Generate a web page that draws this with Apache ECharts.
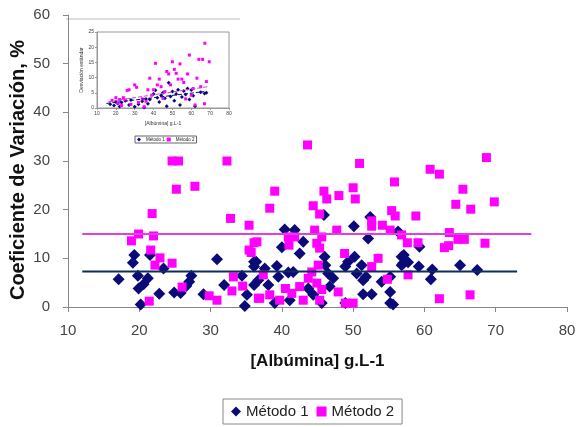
<!DOCTYPE html>
<html>
<head>
<meta charset="utf-8">
<script src="https://cdn.jsdelivr.net/npm/echarts@6/dist/echarts.min.js"></script>
<style>
  html, body { margin: 0; padding: 0; background: #fff; }
  #main { width: 576px; height: 427px; }
</style>
</head>
<body>
<div id="main"></div>
<script>
// valores: [albúmina, CV%]
var metodo1 = [
    [17.1,5.7],[19.3,10.7],[19.1,9.1],[21.5,10.7],[19.8,6.4],[21.2,5.9],[20.6,4.7],[19.9,3.8],[20.2,0.5],
    [22.8,2.7],[23.4,7.9],[24.9,3.0],[25.8,2.9],[27.3,6.4],[27.0,5.2],[26.6,4.3],[29.0,2.6],[30.9,9.8],
    [31.9,4.5],[34.4,6.4],[36.1,4.5],[35.1,2.5],[34.8,0.2],[36.1,9.3],[36.1,8.3],
    [40.4,15.9],[41.8,15.8],[52.4,18.5],[50.1,16.6],[52.1,14.1],[43.0,13.4],[40.0,12.3],[42.5,11.0],
    [46.0,10.3],[45.9,18.9],[50.2,10.3],[49.3,9.3],[51.2,8.6],[46.1,8.6],[48.9,8.3],[36.4,9.3],[39.3,8.4],
    [37.6,7.9],[40.9,7.1],[41.6,7.2],[39.5,6.2],[46.5,6.9],[50.5,6.9],[51.4,5.5],[51.8,6.2],[36.7,5.5],
    [38.1,4.5],[47.2,5.9],[46.7,4.2],[54.0,5.2],[55.2,6.2],[43.7,3.8],[41.1,1.4],[51.4,2.6],[52.6,2.6],
    [55.2,3.1],[55.2,0.8],[55.6,0.5],[56.8,10.3],[56.8,8.6],[56.3,15.5],[39.0,0.8],[45.6,0.8],[48.9,0.8],
    [44.4,2.5],[59.3,12.4],[57.1,10.7],[57.0,9.0],[57.7,9.2],[59.2,8.3],[61.1,7.7],[60.9,5.7],[65.0,8.6],
    [67.4,7.6]
];
var metodo2 = [
    [24.6,30.0],[25.5,30.0],[25.2,24.2],[27.8,24.8],[32.3,30.0],[21.8,19.2],[19.9,15.0],[18.9,13.6],
    [22.0,14.6],[21.6,11.7],[22.9,10.1],[22.2,8.6],[24.6,9.0],[21.4,1.2],[26.0,4.1],[29.8,2.3],[30.9,1.4],
    [32.8,18.2],[35.4,16.8],[33.2,6.2],[33.0,3.3],[34.5,4.3],[36.1,13.2],[35.4,11.7],[35.7,11.2],[36.7,1.8],
    [43.6,33.3],[50.9,29.5],[55.8,25.7],[39.0,23.8],[38.3,20.3],[45.9,23.8],[46.3,22.2],[48.0,22.9],
    [50.0,24.5],[50.3,22.2],[44.4,20.8],[45.3,19.1],[55.4,19.8],[55.9,18.7],[52.6,17.7],[52.6,16.6],
    [54.1,16.8],[55.2,15.8],[56.8,14.8],[44.6,15.8],[47.7,15.8],[40.9,14.4],[41.8,14.4],[41.0,12.7],
    [45.6,14.4],[44.9,13.1],[45.3,12.1],[36.5,13.4],[48.8,11.0],[53.5,10.0],[52.6,8.3],[45.1,8.6],
    [44.2,7.2],[37.4,6.6],[43.7,5.9],[44.9,4.9],[42.5,4.2],[40.5,3.8],[45.6,3.6],[38.3,2.5],[39.7,1.4],
    [43.0,1.4],[47.9,3.1],[36.9,1.8],[48.9,0.8],[50.0,0.8],[54.8,5.7],[45.3,1.4],[41.4,2.8],
    [68.7,30.7],[60.8,28.3],[62.1,27.3],[65.4,24.2],[64.4,21.1],[66.5,20.1],[69.8,21.6],[58.8,18.7],
    [63.5,15.3],[57.6,13.2],[59.1,13.2],[64.7,13.9],[65.6,13.9],[62.8,12.2],[63.4,12.6],[68.5,13.1],
    [57.7,6.6],[62.1,1.7],[66.4,2.5]
];
// líneas de promedio
var media1 = [[12, 7.3], [73, 7.3]];
var media2 = [[12, 15], [75, 15]];

// gráfico pequeño: desviación estándar
var insetM1 = [
    [17,1.2],[19,0.8],[20,2.0],[21,1.5],[22,0.5],[23,1.8],[25,2.4],[27,1.0],[28,2.6],[30,0.4],[32,1.2],
    [34,2.2],[35,0.2],[36,3.0],[37,1.4],[38,2.8],[40,4.6],[41,5.8],[42,3.4],[43,2.0],[44,4.2],[45,5.0],
    [46,3.2],[47,0.6],[48,8.3],[49,3.8],[50,5.4],[51,2.4],[52,4.6],[53,6.0],[54,1.0],[55,3.6],[56,5.6],
    [57,4.4],[58,6.4],[59,2.8],[60,5.9],[61,4.0],[62,0.6],[65,5.2],[67,4.8],[68,5.0]
];
var insetM2 = [
    [18,2.5],[20,3.4],[21,1.6],[22,2.8],[23,0.8],[24,3.4],[25,2.6],[26,5.8],[27,6.0],[28,1.2],[30,7.6],
    [31,6.8],[32,1.8],[34,3.0],[35,0.4],[36,2.2],[37,6.0],[38,9.8],[39,4.2],[40,6.0],[41,14.7],[42,7.6],
    [43,9.5],[44,7.0],[45,3.2],[46,5.4],[47,12.0],[48,11.2],[49,7.6],[50,15.2],[51,12.7],[52,11.4],
    [53,9.5],[54,14.5],[55,9.5],[56,8.4],[57,3.0],[58,11.2],[59,17.4],[60,4.2],[61,6.4],[62,1.0],
    [63,9.8],[64,16.0],[65,7.0],[66,16.0],[67,1.4],[68,8.7],[67.2,21.3],[69.5,15.2]
];
var tend1 = [[15, 1.5], [66.7, 5.4]];
var tend2 = [[16, 2.1], [68.5, 7.0]];

var navy = '#0a0a78';
var magenta = '#ff00ff';
var font = 'Liberation Sans, Arial, sans-serif';

var chart = echarts.init(document.getElementById('main'));

var option = {
    animation: false,
    backgroundColor: '#fff',
    textStyle: { fontFamily: font },
    graphic: [{
        type: 'line',
        shape: { x1: 66, y1: 19, x2: 240, y2: 19 },
        style: { stroke: '#bbb', lineWidth: 1 }
    }],
    legend: [{
        data: ['Método 1', 'Método 2'],
        left: 223,
        top: 399,
        borderColor: '#888',
        borderWidth: 1,
        borderRadius: 0,
        padding: [5, 8, 5, 8],
        itemWidth: 10,
        itemHeight: 10,
        itemGap: 8,
        textStyle: { fontSize: 15, color: '#222', fontFamily: font }
    }, {
        data: ['Método 1', 'Método 2'],
        left: 135,
        top: 136,
        borderColor: '#666',
        borderWidth: 1,
        borderRadius: 0,
        padding: [1, 2, 1, 2],
        itemWidth: 4,
        itemHeight: 4,
        itemGap: 2,
        textStyle: { fontSize: 4.5, color: '#222', fontFamily: font }
    }],
    grid: [
        { left: 68, right: 9, top: 15, bottom: 120, outerBoundsMode: 'none' },
        { left: 97, top: 32, width: 132, height: 76, show: true, borderColor: '#999', borderWidth: 1, outerBoundsMode: 'none' }
    ],
    xAxis: [{
        gridIndex: 0,
        type: 'value',
        min: 10, max: 80, interval: 10,
        name: '[Albúmina] g.L-1',
        nameLocation: 'middle',
        nameGap: 46,
        nameMoveOverlap: false,
        nameTextStyle: { fontSize: 17, fontWeight: 'bold', color: '#111' },
        axisLine: { lineStyle: { color: '#888' } },
        axisTick: { inside: false, length: 5, lineStyle: { color: '#888' } },
        axisLabel: { fontSize: 15, color: '#444', margin: 16 },
        splitLine: { show: false }
    }, {
        gridIndex: 1,
        type: 'value',
        min: 10, max: 80, interval: 10,
        name: '[Albúmina] g.L-1',
        nameLocation: 'middle',
        nameGap: 13,
        nameTextStyle: { fontSize: 5, color: '#333' },
        axisLine: { lineStyle: { color: '#999' } },
        axisTick: { length: 2, lineStyle: { color: '#999' } },
        axisLabel: { fontSize: 5, color: '#444', margin: 3 },
        splitLine: { show: false }
    }],
    yAxis: [{
        gridIndex: 0,
        type: 'value',
        min: 0, max: 60, interval: 10,
        name: 'Coeficiente de Variación, %',
        nameLocation: 'middle',
        nameGap: 40,
        nameMoveOverlap: false,
        nameTextStyle: { fontSize: 20, fontWeight: 'bold', color: '#111', padding: [0, 18, 0, 0] },
        axisLine: { show: true, lineStyle: { color: '#888' } },
        axisTick: { show: true, length: 5, lineStyle: { color: '#888' } },
        axisLabel: { fontSize: 15, color: '#444', margin: 18 },
        splitLine: { show: false }
    }, {
        gridIndex: 1,
        type: 'value',
        min: 0, max: 25, interval: 5,
        name: 'Desviación estándar',
        nameLocation: 'middle',
        nameGap: 12,
        nameTextStyle: { fontSize: 5, color: '#333' },
        axisLine: { show: true, lineStyle: { color: '#999' } },
        axisTick: { show: true, length: 2, lineStyle: { color: '#999' } },
        axisLabel: { fontSize: 5, color: '#444', margin: 3 },
        splitLine: { show: false }
    }],
    series: [{
        name: 'Método 1',
        type: 'scatter',
        xAxisIndex: 0, yAxisIndex: 0,
        symbol: 'diamond',
        symbolSize: 12,
        itemStyle: { color: navy, opacity: 1 },
        data: metodo1,
        z: 3
    }, {
        name: 'Método 2',
        type: 'scatter',
        xAxisIndex: 0, yAxisIndex: 0,
        symbol: 'rect',
        symbolSize: 9,
        itemStyle: { color: magenta, opacity: 1 },
        data: metodo2,
        z: 4
    }, {
        name: 'media1',
        type: 'line',
        xAxisIndex: 0, yAxisIndex: 0,
        symbol: 'none',
        lineStyle: { color: '#0f2d5a', width: 2 },
        data: media1,
        z: 5
    }, {
        name: 'media2',
        type: 'line',
        xAxisIndex: 0, yAxisIndex: 0,
        symbol: 'none',
        lineStyle: { color: '#e040e0', width: 2 },
        data: media2,
        z: 5
    }, {
        name: 'Método 1',
        type: 'scatter',
        xAxisIndex: 1, yAxisIndex: 1,
        symbol: 'diamond',
        symbolSize: 4,
        itemStyle: { color: navy, opacity: 1 },
        data: insetM1
    }, {
        name: 'Método 2',
        type: 'scatter',
        xAxisIndex: 1, yAxisIndex: 1,
        symbol: 'rect',
        symbolSize: 3,
        itemStyle: { color: magenta, opacity: 1 },
        data: insetM2
    }, {
        name: 'tend1',
        type: 'line',
        xAxisIndex: 1, yAxisIndex: 1,
        symbol: 'none',
        lineStyle: { color: navy, width: 1, type: 'dashed' },
        data: tend1
    }, {
        name: 'tend2',
        type: 'line',
        xAxisIndex: 1, yAxisIndex: 1,
        symbol: 'none',
        lineStyle: { color: '#d040d0', width: 1, type: 'dashed' },
        data: tend2
    }]
};
chart.setOption(option);
</script>
</body>
</html>
